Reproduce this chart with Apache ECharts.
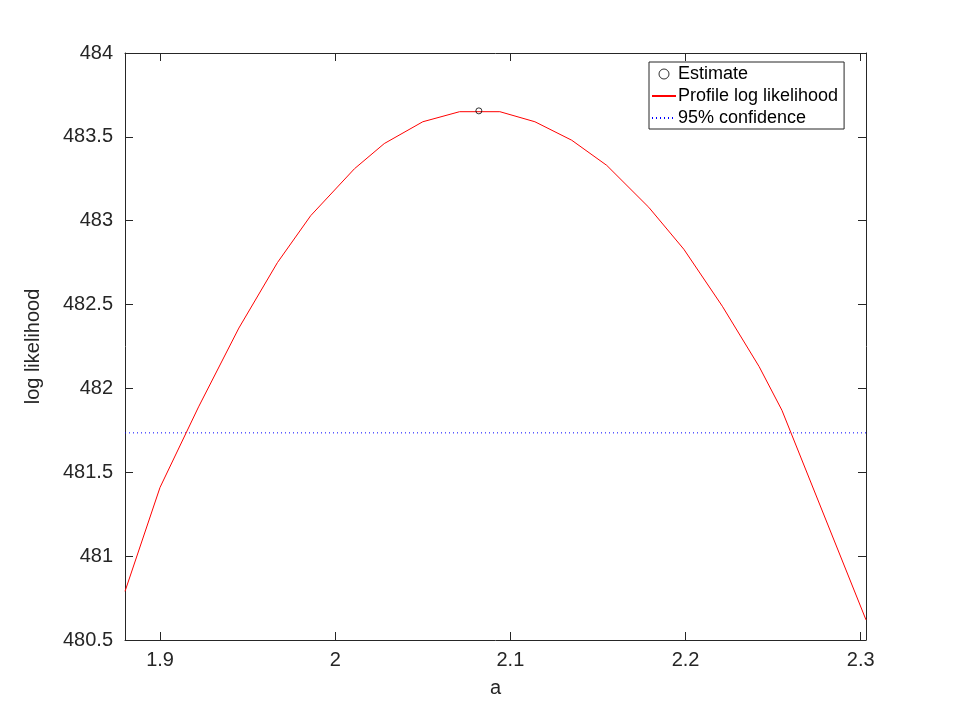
<!DOCTYPE html>
<html><head><meta charset="utf-8">
<script src="https://cdn.jsdelivr.net/npm/echarts@6/dist/echarts.min.js"></script>
<style>html,body{margin:0;padding:0;background:#fff}#c{width:960px;height:720px}</style>
</head><body><div id="c"></div>
<script>
const aValues = [1.880, 1.900, 1.922, 1.945, 1.967, 1.986, 2.011, 2.028, 2.050, 2.071, 2.094, 2.114, 2.135, 2.155, 2.179, 2.199, 2.221, 2.242, 2.255, 2.303];
const logLik  = [480.79, 481.41, 481.89, 482.36, 482.75, 483.03, 483.31, 483.46, 483.59, 483.65, 483.65, 483.59, 483.48, 483.33, 483.08, 482.83, 482.49, 482.13, 481.87, 480.62];
const estimate = [2.082, 483.655];
const confidence = 481.735;
const xRange = [1.88, 2.303];
const yRange = [480.5, 484];
const xTicks = [1.9, 2, 2.1, 2.2, 2.3];

const font = 'Liberation Sans';
const chart = echarts.init(document.getElementById('c'));
const axLine = {show: true, onZero: false, lineStyle: {color: '#262626', width: 1}};
const tick = {show: true, inside: true, length: 8, lineStyle: {color: '#262626'}};
chart.setOption({
  animation: false,
  textStyle: {fontFamily: font},
  grid: {left: 125, right: 94, top: 53, bottom: 80},
  xAxis: [
    {type: 'value', min: xRange[0], max: xRange[1], position: 'bottom',
      name: 'a', nameLocation: 'middle', nameGap: 38, nameTextStyle: {fontSize: 20, color: '#262626', fontFamily: font},
      axisLabel: {fontSize: 20, color: '#262626', margin: 10, fontFamily: font, customValues: xTicks, formatter: v => String(+v.toFixed(2))},
      axisTick: Object.assign({customValues: xTicks}, tick), axisLine: axLine, splitLine: {show: false}},
    {type: 'value', min: xRange[0], max: xRange[1], position: 'top', axisLabel: {show: false},
      axisLine: axLine, splitLine: {show: false}, axisTick: Object.assign({customValues: xTicks}, tick)}
  ],
  yAxis: [
    {type: 'value', min: yRange[0], max: yRange[1], interval: 0.5, position: 'left',
      name: 'log likelihood', nameLocation: 'middle', nameGap: 82, nameTextStyle: {fontSize: 20, color: '#262626', fontFamily: font},
      axisLabel: {fontSize: 20, color: '#262626', margin: 12, fontFamily: font},
      axisLine: axLine, axisTick: tick, splitLine: {show: false}},
    {type: 'value', min: yRange[0], max: yRange[1], interval: 0.5, position: 'right', axisLabel: {show: false},
      axisLine: axLine, axisTick: tick, splitLine: {show: false}}
  ],
  legend: {
    orient: 'vertical', left: 649, top: 62, padding: [3, 6, 2, 2], itemGap: 4,
    itemWidth: 24, itemHeight: 10,
    borderColor: '#262626', borderWidth: 1, backgroundColor: '#fff',
    textStyle: {fontSize: 18, color: '#000', fontFamily: font, padding: [0, 0, 0, -3]},
    data: [
      {name: 'Estimate', icon: 'circle', itemStyle: {color: 'transparent', borderColor: '#000', borderWidth: 1}},
      {name: 'Profile log likelihood', itemStyle: {opacity: 0}},
      {name: '95% confidence', itemStyle: {opacity: 0}}
    ]
  },
  series: [
    {name: 'Profile log likelihood', type: 'line', data: aValues.map((a, i) => [a, logLik[i]]),
      symbol: 'none', lineStyle: {color: '#ff0000', width: 1}, itemStyle: {color: '#ff0000'}, z: 3},
    {name: '95% confidence', type: 'line', data: [[xRange[0], confidence], [xRange[1], confidence]],
      symbol: 'none', lineStyle: {color: '#0000ff', width: 1, type: [1, 3]}, itemStyle: {color: '#0000ff'}, z: 2},
    {name: 'Estimate', type: 'scatter', data: [estimate], symbol: 'circle', symbolSize: 6,
      itemStyle: {color: 'transparent', borderColor: '#000', borderWidth: 1}, z: 4}
  ]
});
</script></body></html>
